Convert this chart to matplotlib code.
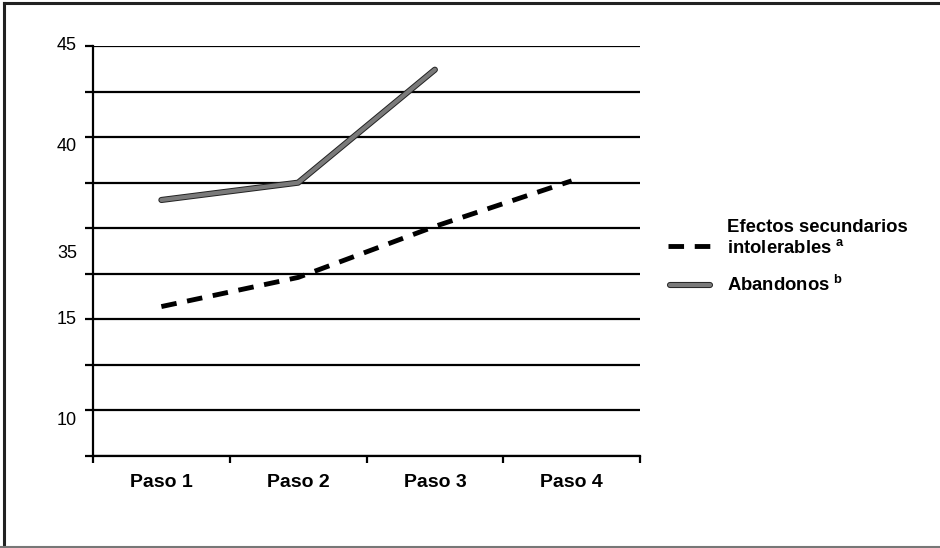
import matplotlib
matplotlib.use('Agg')
import matplotlib.pyplot as plt
import matplotlib.patheffects as pe
from matplotlib.lines import Line2D

plt.rcParams['font.family'] = ['Liberation Sans', 'DejaVu Sans']
plt.rcParams['mathtext.fontset'] = 'custom'
plt.rcParams['mathtext.bf'] = 'Liberation Sans:bold'
plt.rcParams['mathtext.rm'] = 'Liberation Sans'

# categorias del eje x
pasos = ['Paso 1', 'Paso 2', 'Paso 3', 'Paso 4']

# valores en la escala del eje (cada linea de rejilla = 2.5)
efectos = [30.7, 32.3, 35.1, 37.6]
abandonos = [36.55, 37.5, 43.7]

# rejilla del eje y y sus etiquetas (eje cortado, etiquetas algo desplazadas como en el original)
y_grid = [22.5, 25, 27.5, 30, 32.5, 35, 37.5, 40, 42.5, 45]
y_lab_pos = [24.47, 30.0, 33.64, 39.46, 45.05]
y_lab_txt = ['10', '15', '35', '40', '45']

W, H = 940, 548
fig = plt.figure(figsize=(W / 100, H / 100), dpi=100)
ax = fig.add_axes([93 / W, 1 - 456 / H, (640 - 93) / W, (456 - 46) / H])

x = list(range(len(pasos)))
dash_kw = dict(color='black', lw=3.5, dashes=(3.2, 2.2), solid_capstyle='butt')
sol_kw = dict(color='#7a7a7a', lw=3.0, solid_capstyle='round',
              path_effects=[pe.Stroke(linewidth=4.4, foreground='#222222'), pe.Normal()])
ax.plot(x, efectos, zorder=3, **dash_kw)
ax.plot(x[:len(abandonos)], abandonos, zorder=3, **sol_kw)

ax.set_xlim(-0.5, 3.5)
ax.set_ylim(22.5, 45)
for g in y_grid:
    ax.axhline(g, color='black', lw=1.6, zorder=1)

ax.set_yticks(y_grid)
ax.set_yticklabels(['' for _ in y_grid])
for p, t in zip(y_lab_pos, y_lab_txt):
    ax.annotate(t, xy=(0, p), xycoords=('axes fraction', 'data'), xytext=(-16, 0),
                textcoords='offset pixels', ha='right', va='center', fontsize=13,
                annotation_clip=False)
ax.tick_params(axis='y', length=6, width=1.6, direction='out')

ax.set_xticks([-0.5, 0.5, 1.5, 2.5, 3.5])
ax.set_xticklabels([])
ax.set_xticks(x, minor=True)
ax.set_xticklabels(pasos, minor=True, fontsize=14, fontweight='bold')
ax.tick_params(axis='x', which='major', length=5, width=1.6, direction='out')
ax.tick_params(axis='x', which='minor', length=0, pad=13)

for s in ['top', 'right']:
    ax.spines[s].set_visible(False)
ax.spines['left'].set_linewidth(1.6)
ax.spines['bottom'].set_linewidth(1.6)

# leyenda dibujada a mano
fig.add_artist(Line2D([668 / W, 712 / W], [1 - 246 / H] * 2, transform=fig.transFigure, **dash_kw))
fig.add_artist(Line2D([670 / W, 710 / W], [1 - 285 / H] * 2, transform=fig.transFigure, **sol_kw))
lk = dict(fontsize=13.3, fontweight='bold', va='center', ha='left')
fig.text(727 / W, 1 - 228 / H, 'Efectos secundarios', **lk)
fig.text(727 / W, 1 - 248 / H, 'intolerables$^{\\mathbf{\\ a}}$', **lk)
fig.text(727 / W, 1 - 285 / H, 'Abandonos$^{\\mathbf{\\ b}}$', **lk)

# marco exterior (izquierda y arriba oscuros, abajo gris)
fig.add_artist(Line2D([4 / W, 4 / W], [0, 1 - 3 / H], transform=fig.transFigure, color='#222222', lw=2.2))
fig.add_artist(Line2D([4 / W, 1], [1 - 3 / H] * 2, transform=fig.transFigure, color='#222222', lw=2.2))
fig.add_artist(Line2D([0, 1], [1 - 546.5 / H] * 2, transform=fig.transFigure, color='#777777', lw=1.5))

fig.savefig('out.png', dpi=100)
